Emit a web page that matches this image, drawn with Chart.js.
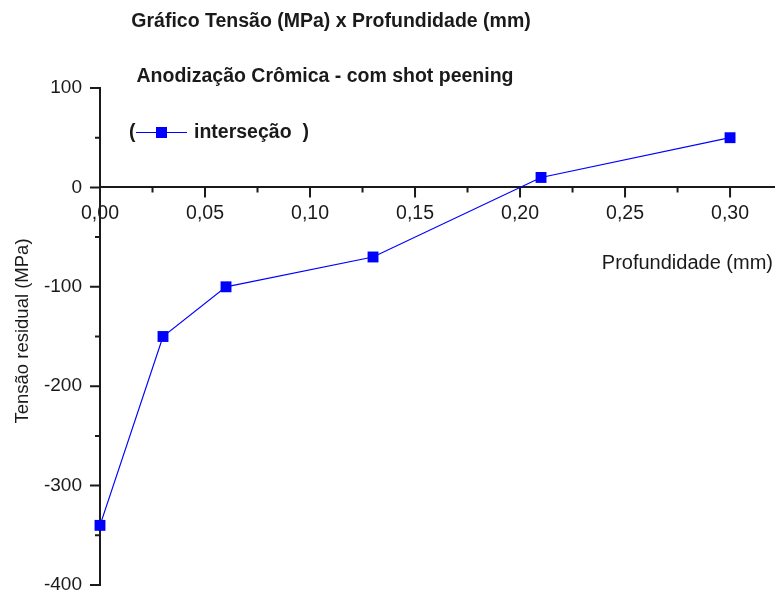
<!DOCTYPE html>
<html>
<head>
<meta charset="utf-8">
<script src="https://cdn.jsdelivr.net/npm/chart.js@4/dist/chart.umd.min.js"></script>
<style>
  html, body { margin: 0; padding: 0; background: #ffffff; }
  #wrap { width: 775px; height: 594px; }
</style>
</head>
<body>
<div id="wrap"><canvas id="c" width="775" height="594"></canvas></div>
<script>
// ---- data ----
const depthMm = [0.00, 0.03, 0.06, 0.13, 0.21, 0.30];
const stressMPa = [-340, -150, -100, -70, 10, 50];
const seriesLabel = 'interseção';
const chartTitle = 'Gráfico Tensão (MPa) x Profundidade (mm)';
const chartSubtitle = 'Anodização Crômica - com shot peening';
const xAxisTitle = 'Profundidade (mm)';
const yAxisTitle = 'Tensão residual (MPa)';
const xMajorTicks = [0.00, 0.05, 0.10, 0.15, 0.20, 0.25, 0.30];
const xMinorTicks = [0.025, 0.075, 0.125, 0.175, 0.225, 0.275];
const yMajorTicks = [100, 0, -100, -200, -300, -400];
const yMinorTicks = [50, -50, -150, -250, -350];

const FONT = '"Liberation Sans", Arial, Helvetica, sans-serif';
const AXIS_COLOR = '#1a1a1a';
const TEXT_COLOR = '#1a1a1a';
const SERIES_COLOR = '#0000ff';

const decorations = {
  id: 'decorations',
  afterDraw(chart) {
    const ctx = chart.ctx;
    const xs = chart.scales.x, ys = chart.scales.y;
    const y0 = ys.getPixelForValue(0);
    const xLeft = xs.getPixelForValue(0);
    ctx.save();
    ctx.strokeStyle = AXIS_COLOR;
    ctx.lineWidth = 2;
    ctx.beginPath();
    xMajorTicks.forEach(v => { const p = xs.getPixelForValue(v); ctx.moveTo(p, y0); ctx.lineTo(p, y0 + 10); });
    xMinorTicks.forEach(v => { const p = xs.getPixelForValue(v); ctx.moveTo(p, y0); ctx.lineTo(p, y0 + 5); });
    yMajorTicks.forEach(v => { const p = ys.getPixelForValue(v); ctx.moveTo(xLeft, p); ctx.lineTo(xLeft - 10, p); });
    yMinorTicks.forEach(v => { const p = ys.getPixelForValue(v); ctx.moveTo(xLeft, p); ctx.lineTo(xLeft - 5, p); });
    ctx.stroke();

    ctx.fillStyle = TEXT_COLOR;
    ctx.textBaseline = 'middle';
    // titles
    ctx.font = 'bold 19.5px ' + FONT;
    ctx.textAlign = 'center';
    ctx.fillText(chartTitle, 331, 22);
    ctx.fillText(chartSubtitle, 325, 77);

    // legend
    ctx.textAlign = 'left';
    ctx.fillText('(', 129, 133);
    ctx.strokeStyle = SERIES_COLOR;
    ctx.lineWidth = 1.2;
    ctx.beginPath();
    ctx.moveTo(136, 132.5); ctx.lineTo(187, 132.5);
    ctx.stroke();
    ctx.fillStyle = SERIES_COLOR;
    ctx.fillRect(156, 127, 11, 11);
    ctx.fillStyle = TEXT_COLOR;
    ctx.fillText(seriesLabel + '  )', 194, 133);

    // axis titles
    ctx.font = '20px ' + FONT;
    ctx.textAlign = 'right';
    ctx.fillText(xAxisTitle, 773, 263);
    ctx.font = '18.5px ' + FONT;
    ctx.translate(23, 331);
    ctx.rotate(-Math.PI / 2);
    ctx.textAlign = 'center';
    ctx.fillText(yAxisTitle, 0, 0);
    ctx.restore();
  }
};

function zeroPad(s) {
  s.paddingTop = 0; s.paddingBottom = 0; s.paddingLeft = 0; s.paddingRight = 0;
}

new Chart(document.getElementById('c'), {
  type: 'scatter',
  data: {
    datasets: [{
      label: seriesLabel,
      data: depthMm.map((x, i) => ({ x: x, y: stressMPa[i] })),
      showLine: true,
      clip: false,
      borderColor: SERIES_COLOR,
      borderWidth: 1.2,
      backgroundColor: SERIES_COLOR,
      pointStyle: 'rect',
      pointRadius: 7.7,
      pointBorderWidth: 0,
      pointHoverRadius: 7.7
    }]
  },
  options: {
    responsive: false,
    animation: false,
    events: [],
    layout: { autoPadding: false, padding: { top: 88, right: 0, bottom: 9, left: 0 } },
    plugins: {
      legend: { display: false },
      title: { display: false },
      tooltip: { enabled: false }
    },
    scales: {
      x: {
        type: 'linear',
        position: { y: 0 },
        min: 0,
        max: 0.3214,
        grid: { display: false, drawTicks: false },
        border: { display: true, color: AXIS_COLOR, width: 2 },
        ticks: {
          stepSize: 0.05,
          includeBounds: false,
          padding: 15,
          color: TEXT_COLOR,
          font: { family: FONT, size: 19.5 },
          maxRotation: 0,
          callback: v => Number(v).toFixed(2).replace('.', ',')
        },
        afterFit: s => { s.height = 0; zeroPad(s); }
      },
      y: {
        type: 'linear',
        position: 'left',
        min: -400,
        max: 100,
        grid: { display: false, drawTicks: false },
        border: { display: true, color: AXIS_COLOR, width: 2 },
        ticks: {
          stepSize: 100,
          padding: 18,
          color: TEXT_COLOR,
          font: { family: FONT, size: 19 },
          callback: v => String(v)
        },
        afterFit: s => { s.width = 100; zeroPad(s); }
      }
    }
  },
  plugins: [decorations]
});
</script>
</body>
</html>
